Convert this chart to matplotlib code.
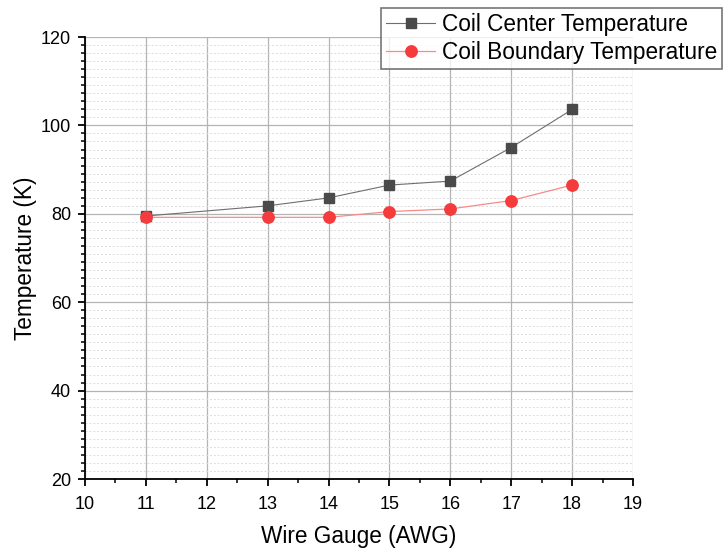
import matplotlib
matplotlib.use("Agg")
import matplotlib.pyplot as plt
from matplotlib.ticker import MultipleLocator

plt.rcParams['font.family'] = ['Liberation Sans', 'DejaVu Sans']

gauge_center = [11, 13, 14, 15, 16, 17, 18]
temp_center = [79.5, 81.8, 83.6, 86.5, 87.4, 95.0, 103.6]
gauge_boundary = [11, 13, 14, 15, 16, 17, 18]
temp_boundary = [79.2, 79.2, 79.2, 80.5, 81.1, 83.0, 86.5]

fig = plt.figure(figsize=(7.24, 5.52), dpi=100)
ax = fig.add_axes([85/724, 73/552, 548/724, 442/552])

ax.set_xlim(10, 19)
ax.set_ylim(20, 120)
ax.xaxis.set_major_locator(MultipleLocator(1))
ax.xaxis.set_minor_locator(MultipleLocator(0.5))
ax.yaxis.set_major_locator(MultipleLocator(20))
ax.yaxis.set_minor_locator(MultipleLocator(20/11))

ax.grid(which='major', color='#b4b4b4', linewidth=0.9)
ax.grid(which='minor', axis='y', color='#dcdcdc', linewidth=0.7, linestyle=(0, (2, 2)))
ax.set_axisbelow(True)

ax.plot(gauge_center, temp_center, color='#6e6e6e', linewidth=0.8,
        marker='s', markersize=7.5, markerfacecolor='#4a4a4a', markeredgecolor='#4a4a4a',
        label='Coil Center Temperature', zorder=3)
ax.plot(gauge_boundary, temp_boundary, color='#f88a8a', linewidth=0.9,
        marker='o', markersize=8.2, markerfacecolor='#f53b3b', markeredgecolor='#f53b3b',
        label='Coil Boundary Temperature', zorder=4)

for side in ('top', 'right'):
    ax.spines[side].set_visible(False)
for side in ('left', 'bottom'):
    ax.spines[side].set_linewidth(1.3)
    ax.spines[side].set_color('black')

ax.tick_params(which='major', direction='out', length=5, width=1.3, labelsize=13)
ax.tick_params(axis='x', which='major', pad=7)
ax.tick_params(axis='y', which='major', pad=5)
ax.tick_params(which='minor', direction='out', length=3, width=1.1)

ax.set_xlabel('Wire Gauge (AWG)', fontsize=16.3, labelpad=9)
ax.set_ylabel('Temperature (K)', fontsize=16.3, labelpad=3)

leg = fig.legend(loc='upper right', bbox_to_anchor=(722/724, 1 - 8/552),
                 fontsize=16.3, frameon=True, fancybox=False, borderaxespad=0,
                 handlelength=2.2, borderpad=0.2, labelspacing=0.25, handletextpad=0.3)
leg.get_frame().set_edgecolor('#555555')
leg.get_frame().set_linewidth(1.2)

fig.savefig('out.png', dpi=100)
